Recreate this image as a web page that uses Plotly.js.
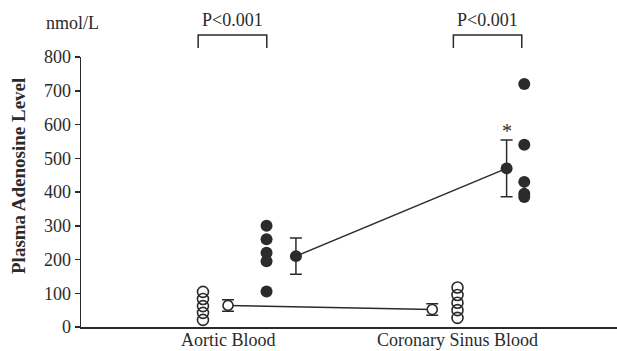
<!DOCTYPE html>
<html>
<head>
<meta charset="utf-8">
<script src="https://cdn.plot.ly/plotly-3.0.1.min.js"></script>
<style>html,body{margin:0;padding:0;background:#fff;}#chart{width:617px;height:351px;}</style>
</head>
<body>
<div id="chart"></div>
<script>
// ---- data ----
const categories = ["Aortic Blood", "Coronary Sinus Blood"];
const openAortic = [104, 83, 62, 42, 21];
const openCoronary = [117, 95, 72, 50, 27];
const filledAortic = [300, 260, 220, 195, 105];
const filledCoronary = [720, 540, 430, 395, 385];
const openMean = [64, 52];
const openErr = [17, 17];
const filledMean = [210, 470];
const filledErr = [54, 84];
const yTicks = [0, 100, 200, 300, 400, 500, 600, 700, 800];
const pLabel = "P<0.001";
const unitLabel = "nmol/L";
const yTitle = "Plasma Adenosine Level";
const starLabel = "*";
const starValue = 582;

// ---- layout constants (positions in category units) ----
const catX = [1, 2];
const offOpenDots = [-0.109, 0];
const offOpenMean = [0, -0.110];
const offFilledDots = [0.168, 0.291];
const offFilledMean = [0.296, 0.214];
const bracketL = [-0.130, -0.018];
const bracketR = [0.169, 0.280];

const ink = '#2b2b2b';
const serif = '"Liberation Serif", "Times New Roman", serif';

function col(arr, i, off) { return arr.map(() => catX[i] + off[i]); }

const traces = [];
[openAortic, openCoronary].forEach((vals, i) => {
  traces.push({x: col(vals, i, offOpenDots), y: vals, type: 'scatter', mode: 'markers',
    marker: {symbol: 'circle-open', size: 11, color: ink, line: {width: 1.6, color: ink}},
    hoverinfo: 'skip', showlegend: false, cliponaxis: false});
});
[filledAortic, filledCoronary].forEach((vals, i) => {
  traces.push({x: col(vals, i, offFilledDots), y: vals, type: 'scatter', mode: 'markers',
    marker: {symbol: 'circle', size: 12, color: ink},
    hoverinfo: 'skip', showlegend: false, cliponaxis: false});
});
traces.push({x: catX.map((c, i) => c + offOpenMean[i]), y: openMean, type: 'scatter', mode: 'lines+markers',
  line: {color: ink, width: 1.5},
  marker: {symbol: 'circle', size: 10, color: '#fff', line: {width: 1.6, color: ink}},
  error_y: {type: 'data', array: openErr, visible: true, color: ink, thickness: 1.5, width: 6},
  hoverinfo: 'skip', showlegend: false, cliponaxis: false});
traces.push({x: catX.map((c, i) => c + offFilledMean[i]), y: filledMean, type: 'scatter', mode: 'lines+markers',
  line: {color: ink, width: 1.5},
  marker: {symbol: 'circle', size: 12, color: ink},
  error_y: {type: 'data', array: filledErr, visible: true, color: ink, thickness: 1.5, width: 6},
  hoverinfo: 'skip', showlegend: false, cliponaxis: false});

const shapes = catX.map((c, i) => ({
  type: 'path', xref: 'x', yref: 'paper',
  path: `M ${c + bracketL[i]} 1.033 L ${c + bracketL[i]} 1.0815 L ${c + bracketR[i]} 1.0815 L ${c + bracketR[i]} 1.033`,
  line: {color: ink, width: 1.5}
}));

const annotations = catX.map((c, i) => ({
  x: c + (bracketL[i] + bracketR[i]) / 2, xref: 'x', y: 1.137, yref: 'paper',
  text: pLabel, showarrow: false, font: {family: serif, size: 18, color: ink},
  xanchor: 'center', yanchor: 'middle'
}));
catX.forEach((c, i) => annotations.push({
  x: c, xref: 'x', y: (327 - 340) / 270, yref: 'paper',
  text: categories[i], showarrow: false, font: {family: serif, size: 18, color: ink},
  xanchor: 'center', yanchor: 'middle'
}));
annotations.push({x: (72 - 81) / 536, xref: 'paper', y: (327 - 23) / 270, yref: 'paper',
  text: unitLabel, showarrow: false, font: {family: serif, size: 18, color: ink}, xanchor: 'center', yanchor: 'middle'});
annotations.push({x: (18 - 81) / 536, xref: 'paper', y: (327 - 176) / 270, yref: 'paper',
  text: '<b>' + yTitle + '</b>', textangle: -90, showarrow: false,
  font: {family: serif, size: 19, color: ink}, xanchor: 'center', yanchor: 'middle'});
annotations.push({x: catX[1] + offFilledMean[1], xref: 'x', y: starValue, yref: 'y',
  text: starLabel, showarrow: false, font: {family: serif, size: 20, color: ink}, xanchor: 'center', yanchor: 'middle'});

const layout = {
  width: 617, height: 351,
  margin: {l: 81, r: 0, t: 57, b: 24},
  paper_bgcolor: '#fff', plot_bgcolor: '#fff',
  font: {family: serif, size: 18, color: ink},
  xaxis: {range: [0.3595, 2.695], showgrid: false, zeroline: false, showline: true,
    linecolor: ink, linewidth: 1.5, showticklabels: false, ticks: '', fixedrange: true},
  yaxis: {range: [0, 800], tickvals: yTicks, showgrid: false, zeroline: false, showline: true,
    linecolor: ink, linewidth: 1.5, ticks: 'outside', ticklen: 5, tickwidth: 1.5, tickcolor: ink,
    tickfont: {family: serif, size: 18, color: ink}, fixedrange: true},
  shapes: shapes,
  annotations: annotations,
  showlegend: false
};

Plotly.newPlot('chart', traces, layout, {staticPlot: true, displayModeBar: false});
</script>
</body>
</html>
